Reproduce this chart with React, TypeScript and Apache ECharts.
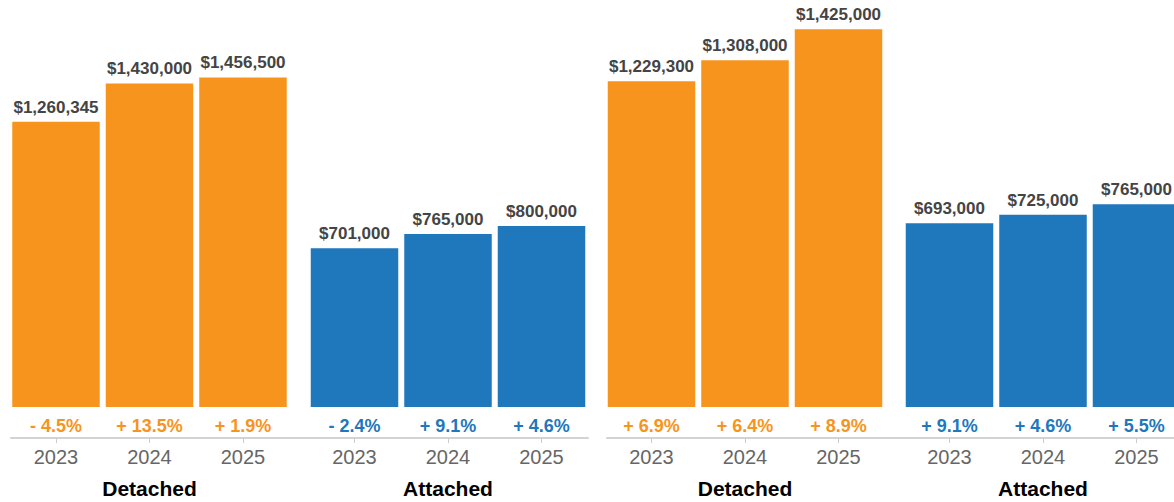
import React, { useEffect, useRef } from "react";
import * as echarts from "echarts";

const years = ["2023", "2024", "2025"];
const groupNames = ["Detached", "Attached"];

const leftDetached = [1260345, 1430000, 1456500];
const leftDetachedPct = [-4.5, 13.5, 1.9];
const leftAttached = [701000, 765000, 800000];
const leftAttachedPct = [-2.4, 9.1, 4.6];

const rightDetached = [1229300, 1308000, 1425000];
const rightDetachedPct = [6.9, 6.4, 8.9];
const rightAttached = [693000, 725000, 765000];
const rightAttachedPct = [9.1, 4.6, 5.5];

const ORANGE = "#F7941E";
const BLUE = "#1F77BC";
const FONT = "'Liberation Sans', Arial, Helvetica, sans-serif";

const fmtMoney = (v: number) => "$" + v.toLocaleString("en-US");
const fmtPct = (v: number) =>
  (v < 0 ? "- " : "+ ") + Math.abs(v).toFixed(1) + "%";

export default function App() {
  const ref = useRef<HTMLDivElement>(null);

  useEffect(() => {
    if (!ref.current) return;
    const chart = echarts.init(ref.current, null, { renderer: "svg" });

    const GRID_TOP = 7;
    const GRID_H = 400;
    const STEP = 93.5;
    const groups = [
      { left: 9.25, values: leftDetached, pct: leftDetachedPct, color: ORANGE, name: groupNames[0], max: 1767600 },
      { left: 307.75, values: leftAttached, pct: leftAttachedPct, color: BLUE, name: groupNames[1], max: 1767600 },
      { left: 604.75, values: rightDetached, pct: rightDetachedPct, color: ORANGE, name: groupNames[0], max: 1509400 },
      { left: 902.75, values: rightAttached, pct: rightAttachedPct, color: BLUE, name: groupNames[1], max: 1509400 },
    ];
    const lines = [
      { left: 11, width: 577 },
      { left: 607, width: 580 },
    ];

    const grid: any[] = [];
    const xAxis: any[] = [];
    const yAxis: any[] = [];
    const series: any[] = [];

    lines.forEach((l) => {
      const gi = grid.length;
      grid.push({ left: l.left, width: l.width, top: GRID_TOP, height: GRID_H, containLabel: false, outerBoundsMode: "none" });
      xAxis.push({
        gridIndex: gi, type: "value", min: 0, max: 1, offset: 31,
        axisLine: { show: true, onZero: false, lineStyle: { color: "#D3D3D3", width: 2 } },
        axisTick: { show: false }, axisLabel: { show: false }, splitLine: { show: false },
      });
      yAxis.push({ gridIndex: gi, type: "value", show: false, min: 0, max: 1, splitLine: { show: false } });
    });

    groups.forEach((g) => {
      const gi = grid.length;
      grid.push({ left: g.left, width: STEP * 3, top: GRID_TOP, height: GRID_H, containLabel: false, outerBoundsMode: "none" });
      const yearAxisIdx = xAxis.length;
      xAxis.push({
        gridIndex: gi, type: "category", data: years, position: "bottom", offset: 31,
        axisLine: { show: false, onZero: false },
        axisTick: { show: true, alignWithLabel: true, length: 5, lineStyle: { color: "#CCCCCC", width: 1 } },
        axisLabel: { color: "#666666", fontSize: 20, fontFamily: FONT, margin: 9 },
        name: g.name, nameLocation: "middle", nameGap: 40,
        nameTextStyle: { color: "#000000", fontSize: 21, fontWeight: "bold", fontFamily: FONT },
      });
      xAxis.push({
        gridIndex: gi, type: "category", data: g.pct.map(fmtPct), position: "bottom", offset: 0,
        axisLine: { show: false, onZero: false }, axisTick: { show: false },
        axisLabel: { color: g.color, fontSize: 18, fontWeight: "bold", fontFamily: FONT, margin: 10 },
      });
      const yIdx = yAxis.length;
      yAxis.push({ gridIndex: gi, type: "value", show: false, min: 0, max: g.max, splitLine: { show: false } });
      series.push({
        type: "bar", xAxisIndex: yearAxisIdx, yAxisIndex: yIdx, data: g.values,
        barWidth: 87.5, itemStyle: { color: g.color },
        label: {
          show: true, position: "top", distance: 6, formatter: (p: any) => fmtMoney(p.value),
          color: "#444444", fontSize: 17, fontWeight: "bold", fontFamily: FONT,
        },
      });
    });

    chart.setOption({
      animation: false,
      backgroundColor: "#ffffff",
      textStyle: { fontFamily: FONT },
      grid, xAxis, yAxis, series,
    });

    return () => chart.dispose();
  }, []);

  return (
    <div
      ref={ref}
      style={{ position: "absolute", left: 0, top: 0, width: 1174, height: 502 }}
    />
  );
}
